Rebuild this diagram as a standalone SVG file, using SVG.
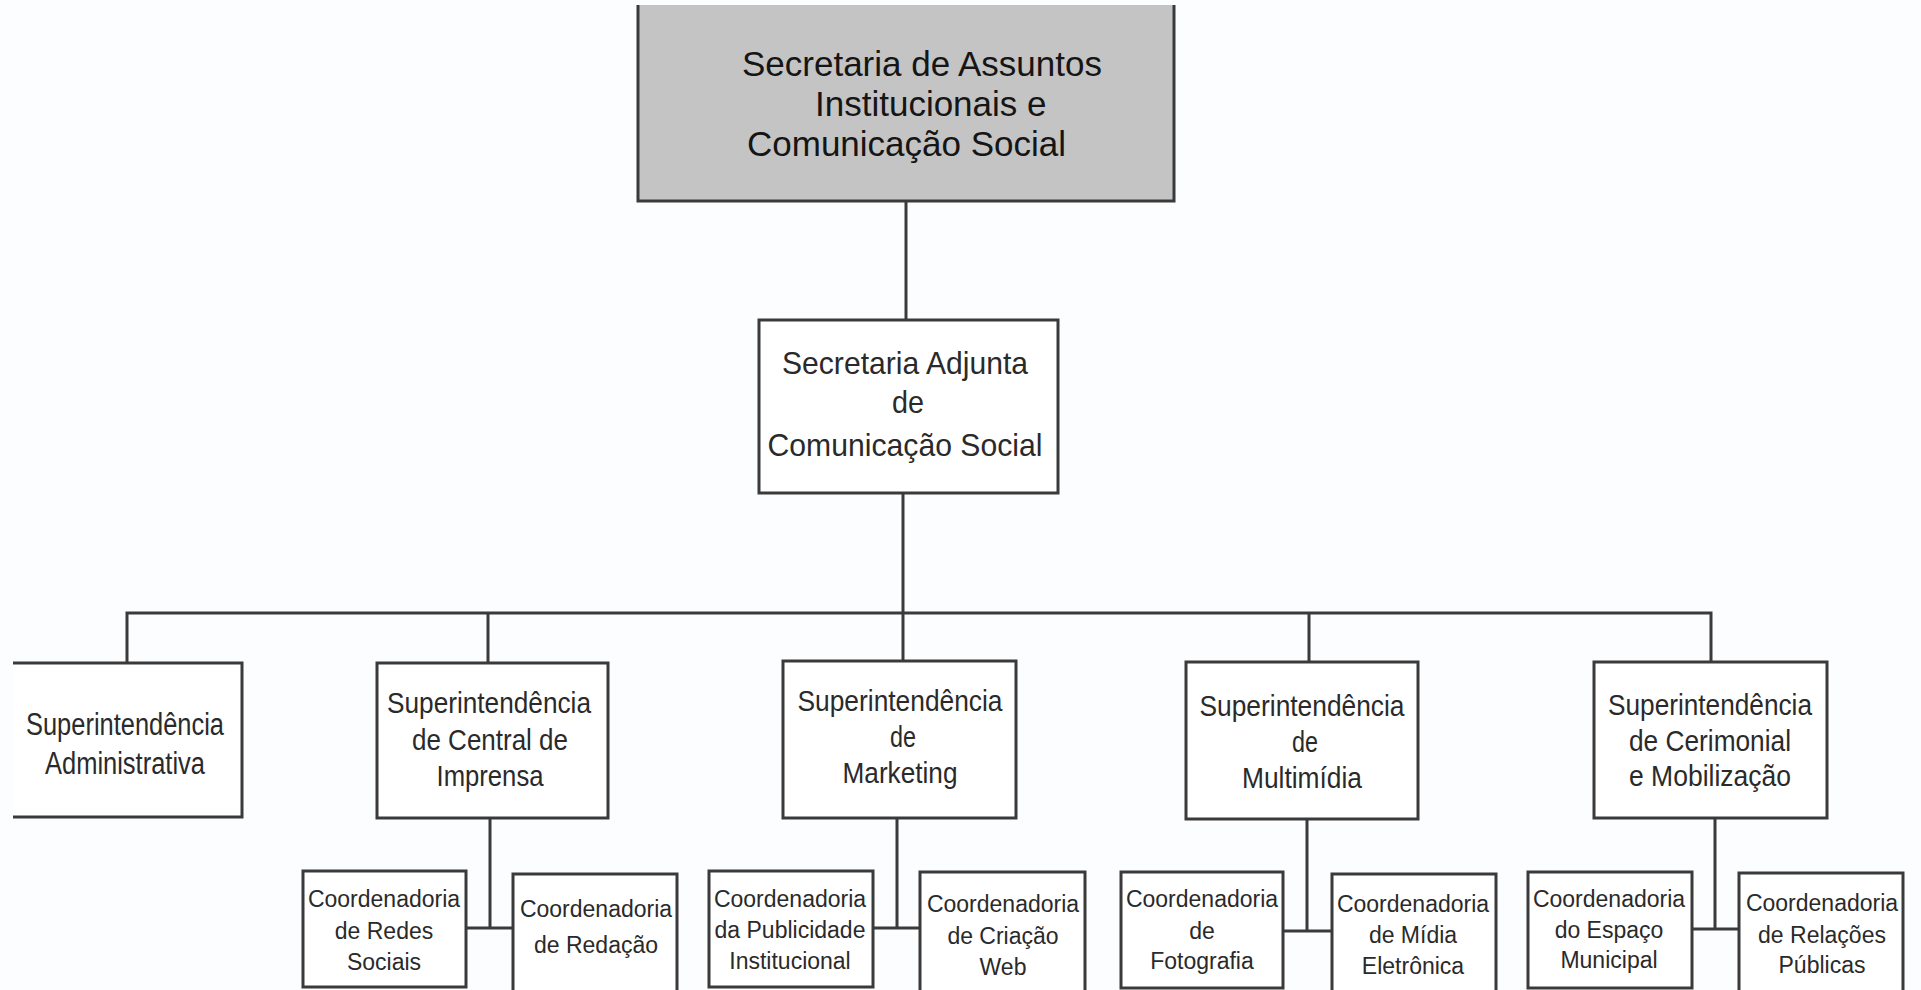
<svg xmlns="http://www.w3.org/2000/svg" width="1921" height="990" viewBox="0 0 1921 990">
<style>
.bx{fill:#ffffff;stroke:#3a3a3a;stroke-width:3}
.ln{fill:none;stroke:#3a3a3a;stroke-width:3}
text{font-family:"Liberation Sans",Arial,sans-serif;fill:#2a2a2a}
.t0{font-size:35px;fill:#151515}
.t1{font-size:32px;text-anchor:middle}
.t2{font-size:30px;text-anchor:middle}
.t3{font-size:23px;text-anchor:middle}
</style>
<rect x="0" y="0" width="1921" height="990" fill="#fcfdfe"/>
<g id="connectors" class="ln">
<path d="M906 201V320"/>
<path d="M903 493V661"/>
<path d="M127 663V613H1711V662"/>
<path d="M488 613V663"/>
<path d="M1309 613V662"/>
<path d="M490 818V928M466 928H513"/>
<path d="M897 818V928M873 928H920"/>
<path d="M1307 819V931M1283 931H1332"/>
<path d="M1715 818V929M1692 929H1739"/>
</g>
<g id="n-top">
<path d="M638 5V201H1174V5" fill="#c4c4c4" stroke="#3a3a3a" stroke-width="3"/>
<text class="t0" x="742" y="76">Secretaria de Assuntos</text>
<text class="t0" x="815" y="116">Institucionais e</text>
<text class="t0" x="747" y="156">Comunicação Social</text>
</g>
<g id="n-adjunta">
<rect class="bx" x="759" y="320" width="299" height="173"/>
<text class="t1" x="905" y="374" textLength="246" lengthAdjust="spacingAndGlyphs">Secretaria Adjunta</text>
<text class="t1" x="908" y="413" textLength="32" lengthAdjust="spacingAndGlyphs">de</text>
<text class="t1" x="905" y="456" textLength="275" lengthAdjust="spacingAndGlyphs">Comunicação Social</text>
</g>
<g id="n-admin">
<path class="bx" d="M13 663H242V817H13"/>
<text class="t2" x="125" y="735" style="font-size:31px" textLength="198" lengthAdjust="spacingAndGlyphs">Superintendência</text>
<text class="t2" x="125" y="774" style="font-size:31px" textLength="160" lengthAdjust="spacingAndGlyphs">Administrativa</text>
</g>
<g id="n-imprensa">
<rect class="bx" x="377" y="663" width="231" height="155"/>
<text class="t2" x="489" y="713" textLength="204" lengthAdjust="spacingAndGlyphs">Superintendência</text>
<text class="t2" x="490" y="750" textLength="156" lengthAdjust="spacingAndGlyphs">de Central de</text>
<text class="t2" x="490" y="786" textLength="107" lengthAdjust="spacingAndGlyphs">Imprensa</text>
</g>
<g id="n-marketing">
<rect class="bx" x="783" y="661" width="233" height="157"/>
<text class="t2" x="900" y="711" textLength="205" lengthAdjust="spacingAndGlyphs">Superintendência</text>
<text class="t2" x="903" y="747" textLength="26" lengthAdjust="spacingAndGlyphs">de</text>
<text class="t2" x="900" y="783" textLength="115" lengthAdjust="spacingAndGlyphs">Marketing</text>
</g>
<g id="n-multimidia">
<rect class="bx" x="1186" y="662" width="232" height="157"/>
<text class="t2" x="1302" y="716" textLength="205" lengthAdjust="spacingAndGlyphs">Superintendência</text>
<text class="t2" x="1305" y="752" textLength="26" lengthAdjust="spacingAndGlyphs">de</text>
<text class="t2" x="1302" y="788" textLength="120" lengthAdjust="spacingAndGlyphs">Multimídia</text>
</g>
<g id="n-cerimonial">
<rect class="bx" x="1594" y="662" width="233" height="156"/>
<text class="t2" x="1710" y="715" textLength="204" lengthAdjust="spacingAndGlyphs">Superintendência</text>
<text class="t2" x="1710" y="751" textLength="162" lengthAdjust="spacingAndGlyphs">de Cerimonial</text>
<text class="t2" x="1710" y="786" textLength="162" lengthAdjust="spacingAndGlyphs">e Mobilização</text>
</g>
<g id="n-redes">
<rect class="bx" x="303" y="871" width="163" height="116"/>
<text class="t3" x="384" y="907">Coordenadoria</text>
<text class="t3" x="384" y="939">de Redes</text>
<text class="t3" x="384" y="970">Sociais</text>
</g>
<g id="n-redacao">
<rect class="bx" x="513" y="874" width="164" height="125"/>
<text class="t3" x="596" y="917">Coordenadoria</text>
<text class="t3" x="596" y="953">de Redação</text>
</g>
<g id="n-publicidade">
<rect class="bx" x="709" y="871" width="164" height="116"/>
<text class="t3" x="790" y="907">Coordenadoria</text>
<text class="t3" x="790" y="938">da Publicidade</text>
<text class="t3" x="790" y="969">Institucional</text>
</g>
<g id="n-criacao">
<rect class="bx" x="920" y="872" width="165" height="127"/>
<text class="t3" x="1003" y="912">Coordenadoria</text>
<text class="t3" x="1003" y="944">de Criação</text>
<text class="t3" x="1003" y="975">Web</text>
</g>
<g id="n-fotografia">
<rect class="bx" x="1121" y="872" width="162" height="116"/>
<text class="t3" x="1202" y="907">Coordenadoria</text>
<text class="t3" x="1202" y="939">de</text>
<text class="t3" x="1202" y="969">Fotografia</text>
</g>
<g id="n-midia">
<rect class="bx" x="1332" y="874" width="164" height="125"/>
<text class="t3" x="1413" y="912">Coordenadoria</text>
<text class="t3" x="1413" y="943">de Mídia</text>
<text class="t3" x="1413" y="974">Eletrônica</text>
</g>
<g id="n-espaco">
<rect class="bx" x="1528" y="872" width="164" height="116"/>
<text class="t3" x="1609" y="907">Coordenadoria</text>
<text class="t3" x="1609" y="938">do Espaço</text>
<text class="t3" x="1609" y="968">Municipal</text>
</g>
<g id="n-relacoes">
<rect class="bx" x="1739" y="873" width="164" height="126"/>
<text class="t3" x="1822" y="911">Coordenadoria</text>
<text class="t3" x="1822" y="943">de Relações</text>
<text class="t3" x="1822" y="973">Públicas</text>
</g>
</svg>
